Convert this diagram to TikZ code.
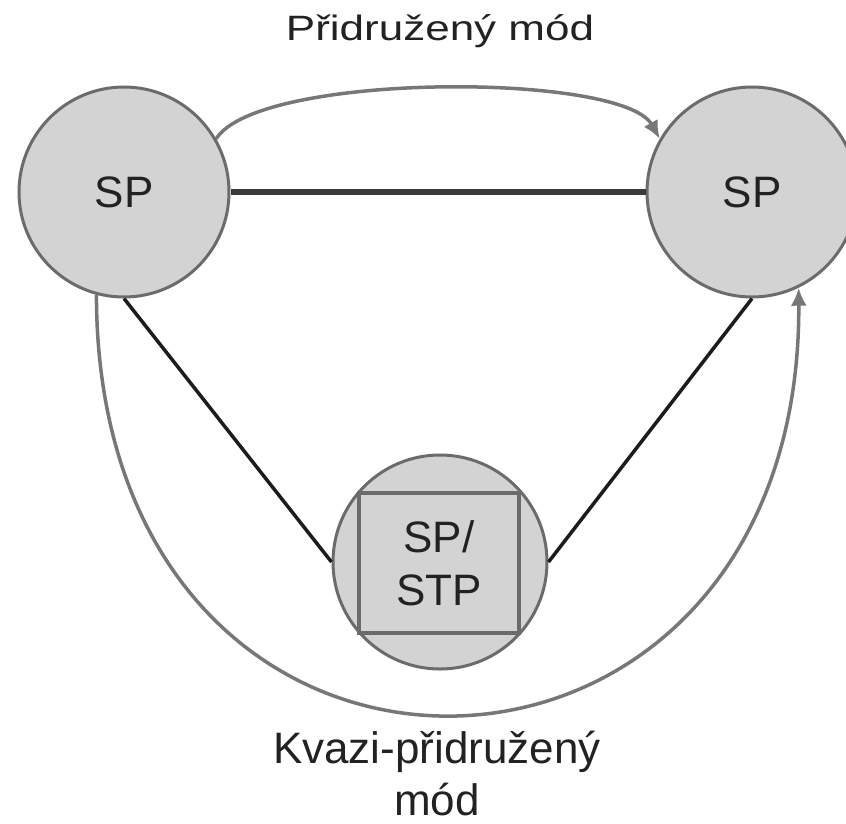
\documentclass[tikz,border=0pt]{standalone}
\usepackage{graphicx}
\usepackage{fontspec}
\setmainfont{Liberation Sans}
\usetikzlibrary{arrows.meta}

\definecolor{nodefill}{HTML}{D3D3D3}
\definecolor{nodeedge}{HTML}{6B6B6B}
\definecolor{linkdark}{HTML}{3A3A3A}
\definecolor{linkblack}{HTML}{1C1C1C}
\definecolor{arcgray}{HTML}{777777}
\definecolor{textdark}{HTML}{222222}

\begin{document}
\begin{tikzpicture}[x=1pt,y=-1pt,
  bigfont/.style={font=\fontsize{44}{53}\selectfont},
  sp/.style={circle, fill=nodefill, draw=nodeedge, line width=3pt,
    minimum size=210pt, inner sep=0pt, text=textdark, bigfont},
  stpbox/.style={rectangle, fill=nodefill, draw=nodeedge, line width=4pt,
    minimum width=160pt, minimum height=140pt, inner sep=0pt,
    align=center, text=textdark, bigfont},
  trunk/.style={draw=linkdark, line width=6pt},
  link/.style={draw=linkblack, line width=3.5pt},
  mode/.style={draw=arcgray, line width=3.5pt,
    -{Latex[length=18pt,width=16pt]}},
  caption/.style={text=textdark, bigfont, anchor=base, inner sep=0pt}]

\useasboundingbox (0,0) rectangle (846,823);

% signalling points
\node[sp] (L) at (124,192) {SP};
\node[sp] (R) at (752,192) {SP};
\node[sp, minimum size=214pt] (B) at (440,562) {};
\node[stpbox] (box) at (439,563) {SP/\\STP};

% signalling links
\draw[trunk] (L.east) -- (R.west);
\draw[link] (L.south) -- (B.west);
\draw[link] (R.south) -- (B.east);

% signalling modes
\draw[mode] (L.30) .. controls (258,72) and (622,72) .. (R.150);
\draw[mode] (L.-105) .. controls (97,862) and (802,848) .. (R.-64);

% captions
\node[caption] (assoc) at (440,40) {\scalebox{1}[0.8]{Přidružený mód}};
\node[caption] (quasi1) at (437,763) {Kvazi-přidružený};
\node[caption] (quasi2) at (437,815) {mód};
\end{tikzpicture}
\end{document}
